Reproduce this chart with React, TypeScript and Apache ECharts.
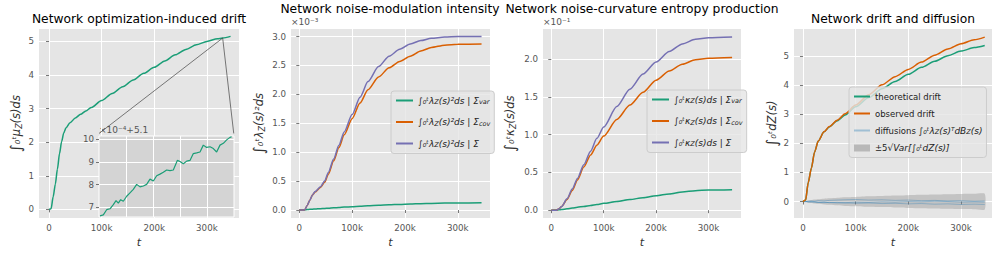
import React, { useEffect, useRef } from 'react';
import * as echarts from 'echarts';

// ---------- tick labels ----------
const xTicks = [0, 100000, 200000, 300000];
const p1YTicks = [0, 1, 2, 3, 4, 5];
const p2YTicks = [0, 0.5, 1.0, 1.5, 2.0, 2.5, 3.0];
const p3YTicks = [0, 0.5, 1.0, 1.5, 2.0];
const p4YTicks = [0, 1, 2, 3, 4, 5];
const insetYTicks = [7, 8, 9, 10];
const insetXTicks = [328800, 329600, 330400, 331200];

// ---------- panel 1: optimization-induced drift ----------
const p1T = [0, 4000, 8000, 12000, 16000, 20000, 24000, 28000, 32000, 40000, 50000, 60000, 70000, 80000, 100000, 120000, 140000, 160000, 180000, 200000, 220000, 240000, 260000, 280000, 300000, 320000, 330000, 345000];
const p1Y = [0, 0.02, 0.38, 0.75, 1.2, 1.66, 2.02, 2.27, 2.42, 2.58, 2.72, 2.83, 2.93, 3.03, 3.24, 3.45, 3.65, 3.85, 4.05, 4.23, 4.42, 4.6, 4.76, 4.9, 5.0, 5.08, 5.1, 5.15];
// inset (values shown as x1e-4 + 5.1)
const insetT = [328030, 328128, 328227, 328326, 328425, 328504, 328573, 328642, 328721, 328820, 328918, 329017, 329116, 329215, 329314, 329412, 329511, 329610, 329709, 329807, 329906, 330005, 330104, 330202, 330321, 330400, 330499, 330598, 330696, 330795, 330894, 330993, 331091, 331190, 331289, 331388, 331486, 331585, 331684, 331783, 331881, 331931];
const insetY = [6.63, 6.67, 6.9, 6.94, 7.12, 7.3, 7.19, 7.34, 7.27, 7.49, 7.64, 7.79, 8.01, 7.9, 7.94, 8.01, 8.24, 8.16, 8.39, 8.46, 8.54, 8.64, 8.61, 8.64, 9.06, 9.01, 8.91, 9.03, 9.06, 9.36, 9.39, 9.43, 9.73, 9.63, 9.66, 9.58, 9.43, 9.73, 9.81, 9.96, 10.07, 10.1];
// zoom connector anchors (data coordinates of panel 1)
const zoomFrom = [330000, 5.1];
const insetCornerL = [95000, 2.26];
const insetCornerR = [351000, 2.26];

// ---------- panel 2: noise-modulation intensity (x1e-3) ----------
const p2T = [0, 10000, 15000, 20000, 25000, 30000, 40000, 48000, 55000, 65000, 75000, 85000, 100000, 115000, 130000, 150000, 170000, 190000, 210000, 230000, 250000, 275000, 300000, 345000];
const p2Var = [0, 0.005, 0.008, 0.011, 0.014, 0.017, 0.023, 0.028, 0.032, 0.038, 0.044, 0.05, 0.058, 0.066, 0.073, 0.082, 0.09, 0.097, 0.103, 0.109, 0.114, 0.119, 0.122, 0.125];
const p2Cov = [0, 0, 0.08, 0.17, 0.26, 0.31, 0.39, 0.48, 0.62, 0.85, 1.08, 1.3, 1.58, 1.85, 2.08, 2.3, 2.46, 2.57, 2.66, 2.75, 2.81, 2.85, 2.865, 2.87];
const p2Sig = [0, 0, 0.08, 0.17, 0.26, 0.32, 0.4, 0.5, 0.65, 0.88, 1.12, 1.35, 1.65, 1.95, 2.22, 2.48, 2.66, 2.78, 2.87, 2.93, 2.97, 2.99, 3.0, 3.0];

// ---------- panel 3: noise-curvature entropy production (x1e-1) ----------
const p3T = [0, 10000, 15000, 20000, 30000, 40000, 50000, 62000, 75000, 87000, 100000, 125000, 150000, 175000, 200000, 225000, 250000, 275000, 300000, 345000];
const p3Var = [0, 0.002, 0.005, 0.008, 0.018, 0.028, 0.038, 0.05, 0.063, 0.076, 0.09, 0.115, 0.14, 0.165, 0.19, 0.215, 0.24, 0.258, 0.266, 0.27];
const p3Cov = [0, 0, 0.02, 0.05, 0.14, 0.26, 0.4, 0.57, 0.73, 0.86, 0.98, 1.2, 1.39, 1.56, 1.72, 1.84, 1.93, 1.99, 2.01, 2.02];
const p3Sig = [0, 0, 0.02, 0.05, 0.15, 0.28, 0.42, 0.6, 0.78, 0.95, 1.1, 1.37, 1.6, 1.8, 1.96, 2.1, 2.2, 2.26, 2.28, 2.29];

// ---------- panel 4: drift and diffusion ----------
const p4T = [0, 5000, 10000, 16000, 22000, 29000, 40000, 50000, 65000, 80000, 100000, 125000, 150000, 175000, 200000, 225000, 250000, 275000, 300000, 325000, 345000];
const p4Theo = [0, 0.05, 0.65, 1.15, 1.7, 2.08, 2.4, 2.57, 2.78, 2.98, 3.26, 3.58, 3.88, 4.13, 4.38, 4.62, 4.83, 5.02, 5.18, 5.3, 5.37];
const p4Obs = [0, 0.05, 0.65, 1.15, 1.7, 2.08, 2.4, 2.58, 2.8, 3.02, 3.32, 3.68, 4.02, 4.3, 4.55, 4.8, 5.04, 5.25, 5.43, 5.57, 5.66];
const p4Band = [0, 0.02, 0.04, 0.05, 0.07, 0.08, 0.1, 0.11, 0.13, 0.15, 0.16, 0.18, 0.19, 0.205, 0.22, 0.23, 0.24, 0.25, 0.26, 0.265, 0.27];
const p4Diff1 = [0, 0.005, -0.01, 0.0, -0.02, -0.03, -0.02, -0.04, -0.03, -0.05, -0.06, -0.05, -0.07, -0.06, -0.08, -0.07, -0.09, -0.08, -0.1, -0.09, -0.1];
const p4Diff2 = [0, -0.005, 0.01, 0.02, 0.01, 0.03, 0.02, 0.04, 0.05, 0.06, 0.07, 0.05, 0.06, 0.04, 0.05, 0.03, 0.04, 0.02, 0.03, 0.01, 0.02];
const p4Diff3 = [0, 0.0, -0.01, -0.02, -0.01, -0.03, -0.04, -0.03, -0.05, -0.04, -0.02, -0.03, -0.01, -0.02, 0.0, -0.01, 0.01, 0.0, -0.02, -0.01, -0.02];

const GREEN = '#1B9E77';
const ORANGE = '#D95F02';
const PURPLE = '#7570B3';
const DIFF = 'rgba(31,119,180,0.35)';
const FONT = 'DejaVu Sans';
const TICK = '#555555';

const pairs = (xs: number[], ys: number[]) => xs.map((x, i) => [x, ys[i]]);
const kfmt = (v: number) => (v === 0 ? '0' : `${v / 1000}k`);

const mathRich = {
  b: { fontSize: 15, fontFamily: FONT, color: '#333' },
  m: { fontSize: 11.5, fontStyle: 'italic', fontFamily: FONT, color: '#333' },
  s: { fontSize: 8, fontStyle: 'italic', fontFamily: FONT, color: '#333', verticalAlign: 'bottom', lineHeight: 12 },
};
const legRich = {
  m: { fontSize: 9, fontStyle: 'italic', fontFamily: FONT, color: '#222' },
  s: { fontSize: 6.5, fontStyle: 'italic', fontFamily: FONT, color: '#222', verticalAlign: 'bottom', lineHeight: 10 },
  n: { fontSize: 8.5, fontFamily: FONT, color: '#222' },
};

const legendLabels: Record<string, string> = {
  p2var: '{m|∫₀ᵗλ}{s|Z}{m|(s)²ds | Σ}{s|var}',
  p2cov: '{m|∫₀ᵗλ}{s|Z}{m|(s)²ds | Σ}{s|cov}',
  p2sig: '{m|∫₀ᵗλ}{s|Z}{m|(s)²ds | Σ}',
  p3var: '{m|∫₀ᵗκ}{s|Z}{m|(s)ds | Σ}{s|var}',
  p3cov: '{m|∫₀ᵗκ}{s|Z}{m|(s)ds | Σ}{s|cov}',
  p3sig: '{m|∫₀ᵗκ}{s|Z}{m|(s)ds | Σ}',
  theo: '{n|theoretical drift}',
  obs: '{n|observed drift}',
  diff: '{n|diffusions }{m|∫₀ᵗλ}{s|Z}{m|(s)ᵀdB}{s|Z}{m|(s)}',
  band: '{n|±5}{m|√Var[∫₀ᵗdZ(s)]}',
};

function xAxis(gridIndex: number, min: number, max: number) {
  return {
    type: 'value', gridIndex, min, max,
    axisLine: { show: false },
    axisTick: { show: true, length: 3, lineStyle: { color: TICK, width: 0.8 }, customValues: xTicks },
    axisLabel: { customValues: xTicks, formatter: kfmt, color: TICK, fontSize: 8.7, fontFamily: FONT, margin: 5 },
    splitLine: { show: true, lineStyle: { color: '#ffffff', width: 1 } },
    name: 't', nameLocation: 'middle', nameGap: 15,
    nameTextStyle: { fontStyle: 'italic', fontSize: 11, color: '#333', fontFamily: FONT },
  };
}
function yAxis(gridIndex: number, min: number, max: number, ticks: number[], name: string, nameGap: number, fmt: (v: number) => string) {
  return {
    type: 'value', gridIndex, min, max,
    axisLine: { show: false },
    axisTick: { show: true, length: 3, lineStyle: { color: TICK, width: 0.8 }, customValues: ticks },
    axisLabel: { customValues: ticks, formatter: fmt, color: TICK, fontSize: 8.7, fontFamily: FONT, margin: 5 },
    splitLine: { show: true, lineStyle: { color: '#ffffff', width: 1 } },
    name, nameLocation: 'middle', nameGap,
    nameTextStyle: { rich: mathRich, fontFamily: FONT },
  };
}

function line(name: string, xi: number, data: number[][], color: string, extra: any = {}) {
  return {
    name, type: 'line', xAxisIndex: xi, yAxisIndex: xi, data,
    symbol: 'none', showSymbol: false, smooth: 0.25, smoothMonotone: 'x',
    lineStyle: { color, width: 1.5 }, itemStyle: { color },
    ...extra,
  };
}

function legend(left: number, top: number, names: any[], extra: any = {}) {
  return {
    orient: 'vertical', left, top, data: names,
    formatter: (n: string) => legendLabels[n] || n,
    textStyle: { rich: legRich, fontFamily: FONT, fontSize: 8.5, color: '#222' },
    itemWidth: 17, itemHeight: 8, itemGap: 12,
    itemStyle: { color: 'transparent', borderColor: 'transparent', borderWidth: 0 },
    padding: [5, 4, 5, 4],
    backgroundColor: 'rgba(229,229,229,0.8)', borderColor: '#cccccc', borderWidth: 1, borderRadius: 3,
    selectedMode: false,
    ...extra,
  };
}

function titleText(x: number, y: number, text: string) {
  return {
    type: 'text', x, y,
    style: { text, fill: '#000', font: `12.3px "${FONT}"`, textAlign: 'center', textVerticalAlign: 'middle', align: 'center', verticalAlign: 'middle' },
  };
}
function smallText(x: number, y: number, text: string) {
  return {
    type: 'text', x, y,
    style: { text, fill: TICK, font: `9px "${FONT}"`, textAlign: 'left', textVerticalAlign: 'middle', align: 'left', verticalAlign: 'middle' },
  };
}

export default function App() {
  const ref = useRef<HTMLDivElement>(null);
  useEffect(() => {
    if (!ref.current) return;
    const chart = echarts.init(ref.current, undefined, { renderer: 'svg' });
    const option: any = {
      animation: false,
      textStyle: { fontFamily: FONT },
      grid: [
        { left: 39, top: 29, width: 200, height: 192, show: true, backgroundColor: '#E5E5E5', borderWidth: 0 },
        { left: 99, top: 136, width: 135, height: 81, show: true, backgroundColor: '#D4D4D4', borderColor: '#ffffff', borderWidth: 1, z: 3 },
        { left: 291, top: 29, width: 199, height: 191, show: true, backgroundColor: '#E5E5E5', borderWidth: 0 },
        { left: 543, top: 29, width: 198, height: 191, show: true, backgroundColor: '#E5E5E5', borderWidth: 0 },
        { left: 794, top: 29, width: 198, height: 192, show: true, backgroundColor: '#E5E5E5', borderWidth: 0 },
      ],
      xAxis: [
        xAxis(0, -19000, 361000),
        {
          type: 'value', gridIndex: 1, min: 328000, max: 332000, z: 4,
          axisLine: { show: false }, axisTick: { show: false, customValues: insetXTicks },
          axisLabel: { show: false, customValues: insetXTicks },
          splitLine: { show: true, lineStyle: { color: '#ffffff', width: 1 } },
        },
        xAxis(2, -15700, 361000),
        xAxis(3, -15800, 362000),
        xAxis(4, -17000, 358800),
      ],
      yAxis: [
        yAxis(0, -0.26, 5.37, p1YTicks, '{b|∫}{m|₀ᵗμ}{s|Z}{m|(s)ds}', 16, (v) => String(v)),
        {
          type: 'value', gridIndex: 1, min: 6.58, max: 10.13, z: 4,
          axisLine: { show: false },
          axisTick: { show: true, length: 3, lineStyle: { color: TICK, width: 0.8 }, customValues: insetYTicks },
          axisLabel: { customValues: insetYTicks, color: TICK, fontSize: 8.7, fontFamily: FONT, margin: 5 },
          splitLine: { show: true, lineStyle: { color: '#ffffff', width: 1 } },
        },
        yAxis(2, -0.14, 3.13, p2YTicks, '{b|∫}{m|₀ᵗλ}{s|Z}{m|(s)²ds}', 25, (v) => v.toFixed(1)),
        yAxis(3, -0.105, 2.397, p3YTicks, '{b|∫}{m|₀ᵗκ}{s|Z}{m|(s)ds}', 26, (v) => v.toFixed(1)),
        yAxis(4, -0.57, 5.94, p4YTicks, '{b|∫}{m|₀ᵗdZ(s)}', 15, (v) => String(v)),
      ],
      legend: [
        legend(391, 91, ['p2var', 'p2cov', 'p2sig']),
        legend(647, 90, ['p3var', 'p3cov', 'p3sig']),
        legend(849, 87, ['theo', 'obs', 'diff', { name: 'band', icon: 'rect', itemStyle: { color: '#b8b8b8', borderWidth: 0 } }], { itemWidth: 16, itemHeight: 7, itemGap: 8 }),
      ],
      graphic: [
        titleText(139, 19, 'Network optimization-induced drift'),
        titleText(390, 9, 'Network noise-modulation intensity'),
        titleText(642, 9, 'Network noise-curvature entropy production'),
        titleText(893, 19, 'Network drift and diffusion'),
        smallText(291, 22, '×10⁻³'),
        smallText(543, 22, '×10⁻¹'),
        smallText(99, 130, '×10⁻⁴+5.1'),
      ],
      series: [
        line('p1main', 0, pairs(p1T, p1Y), GREEN, {
          markLine: {
            silent: true, symbol: ['none', 'none'], animation: false,
            label: { show: false },
            lineStyle: { color: '#444', width: 0.7, type: 'solid' },
            data: [
              [{ coord: zoomFrom }, { coord: insetCornerL }],
              [{ coord: zoomFrom }, { coord: insetCornerR }],
            ],
          },
        }),
        line('inset', 1, pairs(insetT, insetY), GREEN, { smooth: false, lineStyle: { color: GREEN, width: 1.2 }, z: 5 }),
        line('p2var', 2, pairs(p2T, p2Var), GREEN),
        line('p2cov', 2, pairs(p2T, p2Cov), ORANGE),
        line('p2sig', 2, pairs(p2T, p2Sig), PURPLE),
        line('p3var', 3, pairs(p3T, p3Var), GREEN),
        line('p3cov', 3, pairs(p3T, p3Cov), ORANGE),
        line('p3sig', 3, pairs(p3T, p3Sig), PURPLE),
        {
          name: 'band', type: 'custom', xAxisIndex: 4, yAxisIndex: 4,
          data: pairs(p4T, p4Band),
          itemStyle: { color: '#b8b8b8' },
          renderItem: (params: any, api: any) => {
            if (params.dataIndex !== 0) return null;
            const upper = p4T.map((t, i) => api.coord([t, p4Band[i]]));
            const lower = p4T.map((t, i) => api.coord([t, -p4Band[i]])).reverse();
            return {
              type: 'polygon',
              shape: { points: upper.concat(lower), smooth: 0.2 },
              style: { fill: 'rgba(140,140,140,0.38)', stroke: 'none' },
            };
          },
        },
        line('diff', 4, pairs(p4T, p4Diff1), DIFF, { smooth: false, lineStyle: { color: DIFF, width: 1 }, itemStyle: { color: '#c5d4e3' } }),
        line('diff', 4, pairs(p4T, p4Diff2), DIFF, { smooth: false, lineStyle: { color: DIFF, width: 1 }, itemStyle: { color: '#c5d4e3' } }),
        line('diff', 4, pairs(p4T, p4Diff3), DIFF, { smooth: false, lineStyle: { color: DIFF, width: 1 }, itemStyle: { color: '#c5d4e3' } }),
        line('theo', 4, pairs(p4T, p4Theo), GREEN),
        line('obs', 4, pairs(p4T, p4Obs), ORANGE),
      ],
    };
    chart.setOption(option);
    return () => chart.dispose();
  }, []);
  return <div ref={ref} style={{ position: 'absolute', left: 0, top: 0, width: 996, height: 253 }} />;
}
